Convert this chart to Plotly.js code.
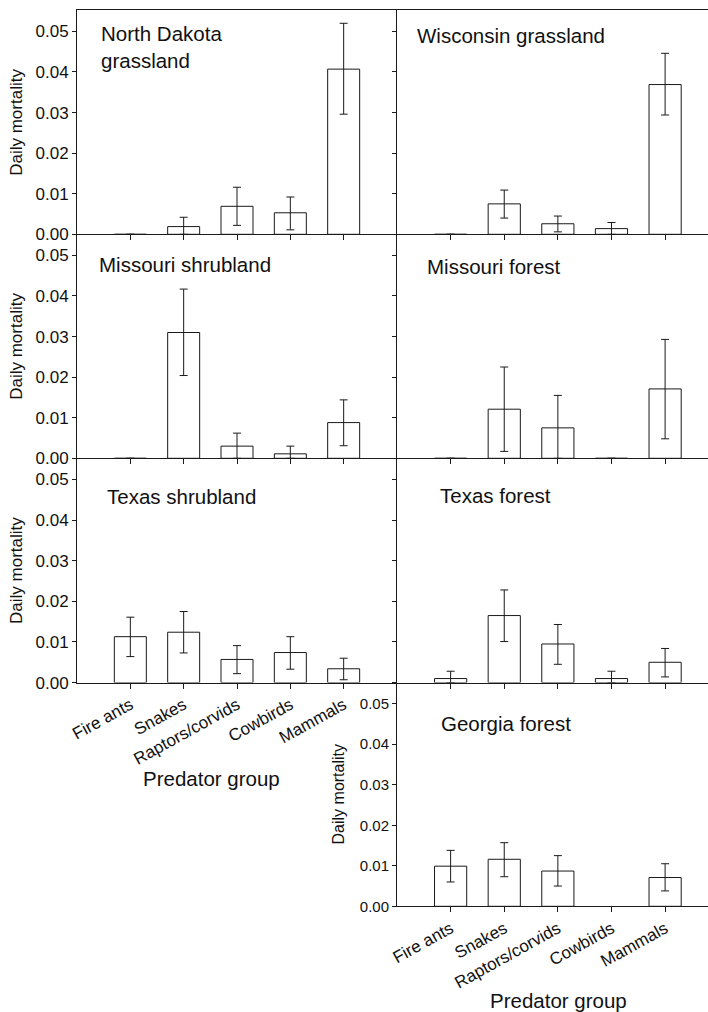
<!DOCTYPE html>
<html><head><meta charset="utf-8">
<script src="https://cdn.plot.ly/plotly-3.0.1.min.js"></script>
<style>html,body{margin:0;padding:0;background:#fff}</style>
</head><body><div id="chart" style="width:708px;height:1012px"></div>
<script>
// ---- data ----
const categories = ["Fire ants", "Snakes", "Raptors/corvids", "Cowbirds", "Mammals"];
const yTickVals = [0, 0.01, 0.02, 0.03, 0.04, 0.05];
const yTickText = ["0.00", "0.01", "0.02", "0.03", "0.04", "0.05"];
const panelTitles = ["North Dakota<br>grassland", "Wisconsin grassland", "Missouri shrubland",
  "Missouri forest", "Texas shrubland", "Texas forest", "Georgia forest"];
const yTitle = "Daily mortality";
const xTitle = "Predator group";

const ndMean  = [0,    0.0019, 0.0069, 0.0053, 0.0407];
const ndUpper = [null, 0.0042, 0.0116, 0.0092, 0.0520];
const ndLower = [null, 0,      0.0022, 0.0011, 0.0296];

const wiMean  = [0,    0.0075, 0.0026, 0.0014, 0.0369];
const wiUpper = [null, 0.0109, 0.0045, 0.0029, 0.0446];
const wiLower = [null, 0.0040, 0.0006, 0,      0.0294];

const mosMean  = [0,    0.0310, 0.0030, 0.0011, 0.0088];
const mosUpper = [null, 0.0417, 0.0062, 0.0030, 0.0144];
const mosLower = [null, 0.0204, 0,      0,      0.0031];

const mofMean  = [0,    0.0121, 0.0075, 0,    0.0171];
const mofUpper = [null, 0.0225, 0.0155, null, 0.0293];
const mofLower = [null, 0.0017, 0,      null, 0.0048];

const txsMean  = [0.0113, 0.0124, 0.0057, 0.0074, 0.0034];
const txsUpper = [0.0161, 0.0175, 0.0091, 0.0113, 0.0060];
const txsLower = [0.0064, 0.0073, 0.0022, 0.0033, 0.0007];

const txfMean  = [0.0010, 0.0165, 0.0095, 0.0010, 0.0050];
const txfUpper = [0.0028, 0.0228, 0.0143, 0.0028, 0.0084];
const txfLower = [0,      0.0101, 0.0045, 0,      0.0014];

const gaMean  = [0.0099, 0.0116, 0.0087, null, 0.0071];
const gaUpper = [0.0138, 0.0157, 0.0125, null, 0.0105];
const gaLower = [0.0060, 0.0073, 0.0050, null, 0.0038];

// ---- layout geometry ----
const W = 708, H = 1012;
const px = v => v / W, py = v => 1 - v / H;
const colX = [[77, 397], [397, 708]];
const rowY = [[10.3, 234.3], [234.3, 458.3], [458.3, 682.6], [682.6, 906.3]];
const ink = '#1a1a1a';

const panels = [
  {m: ndMean,  u: ndUpper,  l: ndLower,  col: 0, row: 0},
  {m: wiMean,  u: wiUpper,  l: wiLower,  col: 1, row: 0},
  {m: mosMean, u: mosUpper, l: mosLower, col: 0, row: 1},
  {m: mofMean, u: mofUpper, l: mofLower, col: 1, row: 1},
  {m: txsMean, u: txsUpper, l: txsLower, col: 0, row: 2},
  {m: txfMean, u: txfUpper, l: txfLower, col: 1, row: 2},
  {m: gaMean,  u: gaUpper,  l: gaLower,  col: 1, row: 3}
];

const xs = categories.map((c, i) => i);
const traces = [];
const layout = {
  width: W, height: H, autosize: false,
  margin: {l: 0, r: 0, t: 0, b: 0},
  paper_bgcolor: '#fff', plot_bgcolor: 'rgba(0,0,0,0)',
  showlegend: false,
  font: {family: 'Liberation Sans, Arial, sans-serif', color: '#111'},
  annotations: []
};

panels.forEach((p, i) => {
  const n = i === 0 ? '' : String(i + 1);
  const plus = p.m.map((v, k) => p.u[k] == null ? null : p.u[k] - v);
  const minus = p.m.map((v, k) => p.l[k] == null ? null : v - p.l[k]);
  traces.push({
    type: 'bar', x: xs, y: p.m, xaxis: 'x' + n, yaxis: 'y' + n,
    width: 0.6,
    marker: {color: '#ffffff', line: {color: ink, width: 1}},
    error_y: {type: 'data', symmetric: false, array: plus, arrayminus: minus,
              color: ink, thickness: 1, width: 4},
    hoverinfo: 'skip'
  });
  const showX = (i === 4 || i === 6);
  const showY = (p.col === 0 || i === 6);
  const tickSize = i === 6 ? 15 : 17;
  layout['xaxis' + n] = {
    domain: [px(colX[p.col][0]), px(colX[p.col][1])],
    anchor: 'y' + n,
    range: p.col === 0 ? [-1, 5] : [-1, 4.8],
    tickmode: 'array', tickvals: xs, ticktext: categories,
    showticklabels: showX, tickangle: -29,
    tickfont: {size: 17, color: '#111'},
    ticks: 'outside', ticklen: 5, tickcolor: ink, tickwidth: 1,
    showline: true, linecolor: ink, linewidth: 1,
    mirror: p.row === 0 ? true : false,
    showgrid: false, zeroline: false, fixedrange: true
  };
  layout['yaxis' + n] = {
    domain: [py(rowY[p.row][1]), py(rowY[p.row][0])],
    anchor: 'x' + n,
    range: [0, 0.0552],
    tickmode: 'array', tickvals: yTickVals, ticktext: yTickText,
    showticklabels: showY, tickfont: {size: tickSize, color: '#111'},
    ticks: 'outside', ticklen: 4, tickcolor: ink, tickwidth: 1,
    showline: true, linecolor: ink, linewidth: 1,
    showgrid: false, zeroline: false, fixedrange: true
  };
});

// panel titles (left x, vertical centre y in px)
const titlePos = [[100, 34], [416, 35.3], [97.7, 264.7], [425.7, 266.3],
                  [106, 497], [439, 495.3], [440, 723.7]];
panelTitles.forEach((t, i) => {
  const multi = t.indexOf('<br>') >= 0;
  layout.annotations.push({
    text: t, xref: 'paper', yref: 'paper', showarrow: false,
    x: px(titlePos[i][0]), y: py(multi ? 47 : titlePos[i][1]),
    xanchor: 'left', yanchor: 'middle', align: 'left', borderpad: 0,
    font: {size: 20.5, color: '#111'}
  });
});

// y axis titles
[[16.5, 0], [16.5, 1], [16.5, 2], [338, 3]].forEach(([x, r]) => {
  layout.annotations.push({
    text: yTitle, xref: 'paper', yref: 'paper', showarrow: false,
    x: px(x), y: py((rowY[r][0] + rowY[r][1]) / 2), textangle: -90,
    xanchor: 'center', yanchor: 'middle', borderpad: 0,
    font: {size: r === 3 ? 16 : 17, color: '#111'}
  });
});

// x axis titles
[[211, 778], [558, 1000]].forEach(([x, y]) => {
  layout.annotations.push({
    text: xTitle, xref: 'paper', yref: 'paper', showarrow: false,
    x: px(x), y: py(y), xanchor: 'center', yanchor: 'middle', borderpad: 0,
    font: {size: 20.5, color: '#111'}
  });
});

Plotly.newPlot('chart', traces, layout, {displayModeBar: false, staticPlot: true});
</script></body></html>
